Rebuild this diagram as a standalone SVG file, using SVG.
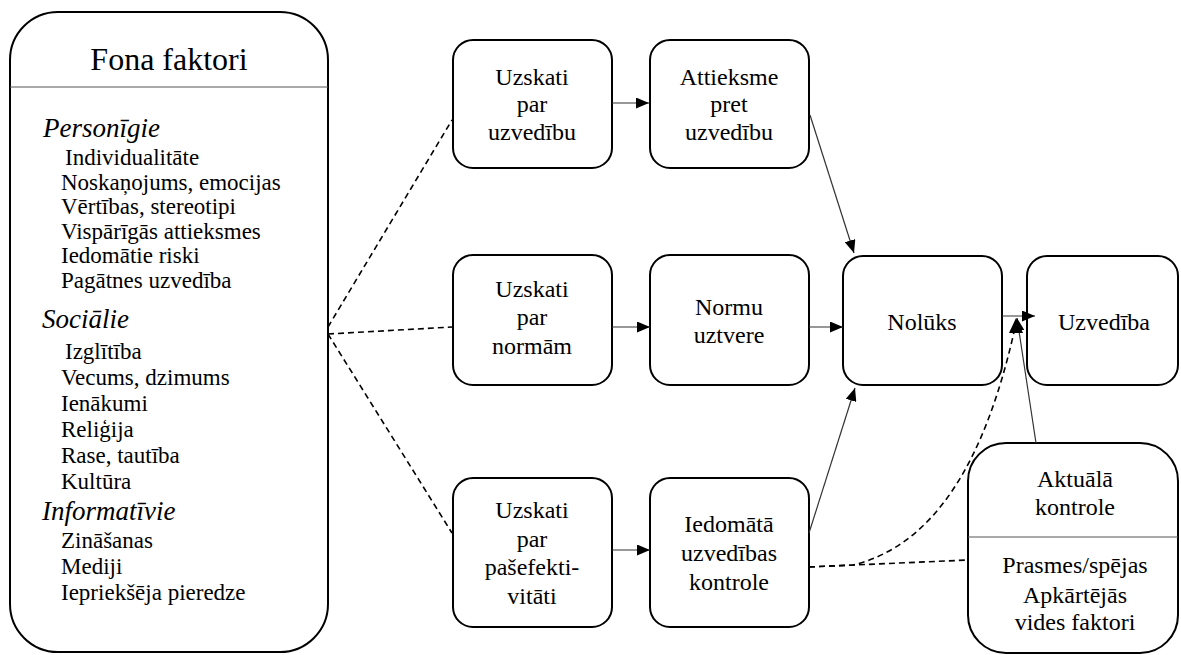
<svg xmlns="http://www.w3.org/2000/svg" width="1181" height="655" viewBox="0 0 1181 655">
<style>
.box{fill:#fff;stroke:#000;stroke-width:2}
.div{stroke:#555;stroke-width:1}
.t{font-family:"Liberation Serif","Times New Roman",serif;font-size:24px;fill:#000;text-anchor:middle}
.l{font-family:"Liberation Serif","Times New Roman",serif;font-size:23px;fill:#000}
.h{font-family:"Liberation Serif","Times New Roman",serif;font-size:27px;font-style:italic;fill:#000}
.title{font-family:"Liberation Serif","Times New Roman",serif;font-size:32px;fill:#000;text-anchor:middle}
.arr{stroke:#333;stroke-width:1.2;fill:none}
.dash{stroke:#000;stroke-width:1.6;fill:none;stroke-dasharray:6 4}
</style>
<defs>
<marker id="ah" viewBox="0 0 13 11" refX="13" refY="5.5" markerWidth="13" markerHeight="11" markerUnits="userSpaceOnUse" orient="auto">
<path d="M0,0 L13,5.5 L0,11 Z" fill="#000"/>
</marker>
</defs>
<rect width="1181" height="655" fill="#fff"/>

<g id="fona">
<rect class="box" x="10" y="12" width="318" height="640" rx="48" ry="48"/>
<line class="div" x1="10" y1="87" x2="328" y2="87"/>
<text class="title" x="169" y="70">Fona faktori</text>
<text class="h" x="43" y="137">Personīgie</text>
<text class="l" x="65" y="165">Individualitāte</text>
<text class="l" x="61" y="190">Noskaņojums, emocijas</text>
<text class="l" x="61" y="214">Vērtības, stereotipi</text>
<text class="l" x="61" y="239">Vispārīgās attieksmes</text>
<text class="l" x="61" y="263">Iedomātie riski</text>
<text class="l" x="61" y="288">Pagātnes uzvedība</text>
<text class="h" x="42" y="328">Sociālie</text>
<text class="l" x="65" y="359">Izglītība</text>
<text class="l" x="61" y="385">Vecums, dzimums</text>
<text class="l" x="61" y="411">Ienākumi</text>
<text class="l" x="61" y="437">Reliģija</text>
<text class="l" x="61" y="463">Rase, tautība</text>
<text class="l" x="61" y="489">Kultūra</text>
<text class="h" x="42" y="520">Informatīvie</text>
<text class="l" x="61" y="548">Zināšanas</text>
<text class="l" x="61" y="574">Mediji</text>
<text class="l" x="61" y="600">Iepriekšēja pieredze</text>
</g>

<g id="uzskati-uzvediba">
<rect class="box" x="453" y="40" width="159" height="128" rx="20"/>
<text class="t" x="532" y="85">Uzskati</text>
<text class="t" x="532" y="112">par</text>
<text class="t" x="532" y="140">uzvedību</text>
</g>
<g id="attieksme">
<rect class="box" x="650" y="40" width="159" height="128" rx="20"/>
<text class="t" x="729" y="85">Attieksme</text>
<text class="t" x="729" y="112">pret</text>
<text class="t" x="729" y="140">uzvedību</text>
</g>
<g id="uzskati-normas">
<rect class="box" x="453" y="255" width="159" height="130" rx="20"/>
<text class="t" x="532" y="297">Uzskati</text>
<text class="t" x="532" y="325">par</text>
<text class="t" x="532" y="354">normām</text>
</g>
<g id="normu-uztvere">
<rect class="box" x="650" y="255" width="159" height="130" rx="20"/>
<text class="t" x="729" y="315">Normu</text>
<text class="t" x="729" y="343">uztvere</text>
</g>
<g id="uzskati-pasefektivitate">
<rect class="box" x="453" y="478" width="159" height="149" rx="20"/>
<text class="t" x="532" y="518">Uzskati</text>
<text class="t" x="532" y="547">par</text>
<text class="t" x="532" y="575">pašefekti-</text>
<text class="t" x="532" y="604">vitāti</text>
</g>
<g id="iedomata-kontrole">
<rect class="box" x="650" y="478" width="159" height="149" rx="20"/>
<text class="t" x="729" y="532">Iedomātā</text>
<text class="t" x="729" y="561">uzvedības</text>
<text class="t" x="729" y="590">kontrole</text>
</g>
<g id="noluks">
<rect class="box" x="843" y="256" width="159" height="129" rx="20"/>
<text class="t" x="922" y="330">Nolūks</text>
</g>
<g id="uzvediba">
<rect class="box" x="1027" y="256" width="151" height="129" rx="20"/>
<text class="t" x="1104" y="330">Uzvedība</text>
</g>
<g id="aktuala-kontrole">
<rect class="box" x="968" y="443" width="210" height="210" rx="38"/>
<line class="div" x1="968" y1="537" x2="1178" y2="537"/>
<text class="t" x="1075" y="487">Aktuālā</text>
<text class="t" x="1075" y="515">kontrole</text>
<text class="t" x="1075" y="573">Prasmes/spējas</text>
<text class="t" x="1075" y="603">Apkārtējās</text>
<text class="t" x="1075" y="630">vides faktori</text>
</g>

<g id="connectors">
<path class="dash" d="M328,327 L452,120"/>
<path class="dash" d="M328,334 L452,327"/>
<path class="dash" d="M328,334 L452,533"/>
<path class="arr" d="M612,103 L649,103" marker-end="url(#ah)"/>
<path class="arr" d="M612,327 L650,327" marker-end="url(#ah)"/>
<path class="arr" d="M612,550 L650,550" marker-end="url(#ah)"/>
<path class="arr" d="M809,327 L843,327" marker-end="url(#ah)"/>
<path class="arr" d="M810,115 L854,253" marker-end="url(#ah)"/>
<path class="arr" d="M809,533 L855,388" marker-end="url(#ah)"/>
<path class="arr" d="M1002,316 L1035,316" marker-end="url(#ah)"/>
<path class="arr" d="M1036,443 L1017,318" marker-end="url(#ah)"/>
<path class="dash" d="M809,567 L968,560"/>
<path class="dash" d="M809,567 L853,565 C935,545 985,460 1014,332"/>
<path d="M1009,333 L1016,318 L1023,333 Z" fill="#000"/>
</g>
</svg>
